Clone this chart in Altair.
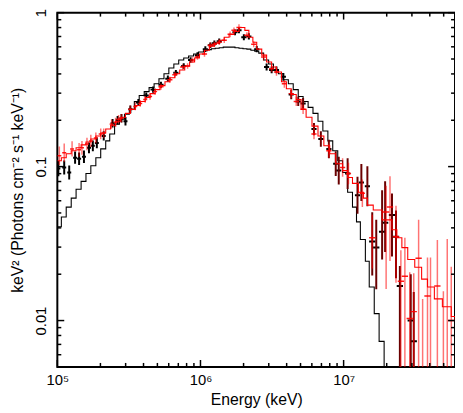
import numpy as np
import pandas as pd
import altair as alt

# ---------------- data (log10 units) ----------------
# energy: log10(keV); flux: log10(keV^2 Photons cm^-2 s^-1 keV^-1)

black_model_logE = [5.000, 5.028, 5.062, 5.097, 5.131, 5.166, 5.200, 5.234, 5.269, 5.303,
                    5.338, 5.366, 5.400, 5.434, 5.469, 5.503, 5.538, 5.572, 5.607, 5.641,
                    5.676, 5.710, 5.745, 5.779, 5.814, 5.848, 5.883, 5.917, 5.952, 5.986,
                    6.021, 6.048, 6.076, 6.103, 6.131, 6.159, 6.186, 6.214, 6.241, 6.269,
                    6.297, 6.324, 6.352, 6.379, 6.407, 6.441, 6.476, 6.510, 6.545, 6.579,
                    6.614, 6.648, 6.683, 6.717, 6.752, 6.786, 6.821, 6.855, 6.890, 6.924,
                    6.959, 6.993, 7.028, 7.062, 7.090, 7.117, 7.152, 7.179, 7.214, 7.248,
                    7.283]
black_model_logF = [-1.391, -1.327, -1.263, -1.205, -1.147, -1.096, -1.045, -0.994, -0.942, -0.885,
                    -0.833, -0.788, -0.724, -0.692, -0.660, -0.628, -0.577, -0.538, -0.513, -0.487,
                    -0.462, -0.429, -0.397, -0.359, -0.333, -0.308, -0.295, -0.282, -0.269, -0.256,
                    -0.247, -0.240, -0.234, -0.231, -0.228, -0.224, -0.224, -0.224, -0.228, -0.231,
                    -0.234, -0.237, -0.244, -0.250, -0.263, -0.308, -0.333, -0.372, -0.397, -0.436,
                    -0.462, -0.500, -0.545, -0.577, -0.615, -0.654, -0.705, -0.769, -0.833, -0.897,
                    -0.962, -1.038, -1.167, -1.263, -1.359, -1.474, -1.615, -1.782, -1.955, -2.135,
                    -2.450]

red_model_logE = [5.000, 5.028, 5.062, 5.097, 5.131, 5.166, 5.200, 5.234, 5.269, 5.303,
                  5.338, 5.372, 5.407, 5.441, 5.476, 5.510, 5.545, 5.579, 5.614, 5.648,
                  5.683, 5.717, 5.752, 5.786, 5.821, 5.855, 5.890, 5.924, 5.959, 5.993,
                  6.028, 6.062, 6.097, 6.131, 6.166, 6.200, 6.234, 6.269, 6.310, 6.338,
                  6.366, 6.393, 6.428, 6.462, 6.497, 6.531, 6.566, 6.600, 6.634, 6.669,
                  6.703, 6.738, 6.779, 6.821, 6.862, 6.903, 6.945, 6.993, 7.028, 7.062,
                  7.103, 7.138, 7.166, 7.207, 7.269, 7.338, 7.372, 7.407, 7.448, 7.497,
                  7.545, 7.586, 7.634, 7.690, 7.752, 7.779]
red_model_logF = [-0.962, -0.942, -0.917, -0.897, -0.878, -0.859, -0.840, -0.821, -0.801, -0.782,
                  -0.756, -0.731, -0.705, -0.679, -0.654, -0.628, -0.603, -0.577, -0.551, -0.526,
                  -0.500, -0.474, -0.449, -0.423, -0.397, -0.372, -0.346, -0.321, -0.295, -0.269,
                  -0.244, -0.218, -0.199, -0.179, -0.160, -0.141, -0.122, -0.096, -0.115, -0.160,
                  -0.192, -0.237, -0.276, -0.321, -0.353, -0.385, -0.449, -0.494, -0.532, -0.564,
                  -0.628, -0.679, -0.737, -0.801, -0.865, -0.917, -0.981, -1.026, -1.071, -1.109,
                  -1.167, -1.205, -1.250, -1.282, -1.346, -1.410, -1.462, -1.526, -1.603, -1.654,
                  -1.731, -1.782, -1.859, -1.910, -1.974, -2.000]

black_data_logE = [5.007, 5.048, 5.083, 5.124, 5.152, 5.186, 5.221, 5.248, 5.276, 5.324,
                   5.386, 5.421, 5.448, 5.476, 5.510, 5.566, 5.621, 5.669, 5.724, 5.772,
                   5.828, 5.883, 5.931, 5.979, 6.034, 6.069, 6.097, 6.131, 6.241, 6.269,
                   6.303, 6.338, 6.393, 6.462, 6.497, 6.531, 6.579, 6.634, 6.683, 6.717,
                   6.793, 6.841, 6.897, 6.945, 6.966, 7.028, 7.097, 7.124, 7.166, 7.200,
                   7.228, 7.269, 7.290, 7.338, 7.366, 7.393, 7.469, 7.490]
black_data_logF = [-1.013, -1.006, -1.038, -0.942, -0.949, -0.936, -0.878, -0.865, -0.846, -0.801,
                   -0.718, -0.699, -0.686, -0.705, -0.628, -0.583, -0.538, -0.500, -0.468, -0.429,
                   -0.391, -0.346, -0.308, -0.276, -0.237, -0.212, -0.199, -0.186, -0.128, -0.115,
                   -0.160, -0.154, -0.237, -0.353, -0.372, -0.372, -0.417, -0.532, -0.577, -0.590,
                   -0.756, -0.821, -0.885, -0.981, -1.026, -1.045, -1.186, -1.103, -1.128, -1.487,
                   -1.526, -1.423, -1.365, -1.314, -1.455, -1.776, -2.000, -2.135]
black_data_err_up = [0.05, 0.045, 0.045, 0.04, 0.04, 0.04, 0.035, 0.035, 0.035, 0.03,
                     0.028, 0.028, 0.028, 0.028, 0.025, 0.022, 0.02, 0.02, 0.02, 0.02,
                     0.018, 0.018, 0.018, 0.018, 0.018, 0.018, 0.018, 0.018, 0.018, 0.018,
                     0.02, 0.02, 0.02, 0.022, 0.022, 0.022, 0.025, 0.03, 0.03, 0.035,
                     0.04, 0.05, 0.06, 0.08, 0.09, 0.1, 0.12, 0.12, 0.13, 0.19,
                     0.18, 0.27, 0.27, 0.14, 0.17, 0.13, 0.3, 0.32]
black_data_err_dn = [0.05, 0.045, 0.045, 0.04, 0.04, 0.04, 0.035, 0.035, 0.035, 0.03,
                     0.028, 0.028, 0.028, 0.028, 0.025, 0.022, 0.02, 0.02, 0.02, 0.02,
                     0.018, 0.018, 0.018, 0.018, 0.018, 0.018, 0.018, 0.018, 0.018, 0.018,
                     0.02, 0.02, 0.02, 0.022, 0.022, 0.022, 0.025, 0.03, 0.03, 0.035,
                     0.04, 0.05, 0.06, 0.08, 0.09, 0.1, 0.12, 0.12, 0.13, 0.22,
                     0.27, 0.18, 0.19, 0.27, 0.27, 1.0, 1.0, 1.0]
black_data_halfbin = [0.014] * 15 + [0.018] * 34 + [0.022] * 9

red_data_logE = [5.014, 5.048, 5.103, 5.152, 5.172, 5.207, 5.234, 5.269, 5.303, 5.324,
                 5.379, 5.407, 5.428, 5.448, 5.510, 5.545, 5.579, 5.614, 5.648, 5.683,
                 5.724, 5.786, 5.821, 5.876, 5.910, 5.945, 5.979, 6.028, 6.069, 6.097,
                 6.131, 6.166, 6.207, 6.234, 6.269, 6.324, 6.372, 6.441, 6.497, 6.531,
                 6.586, 6.634, 6.669, 6.717, 6.793, 6.897, 6.993, 7.034, 7.131, 7.200,
                 7.297, 7.324, 7.366, 7.400, 7.428, 7.462, 7.490, 7.524, 7.586, 7.655,
                 7.752, 7.552, 7.607, 7.697, 7.724]
red_data_logF = [-0.929, -0.910, -0.885, -0.891, -0.878, -0.853, -0.833, -0.814, -0.788, -0.782,
                 -0.724, -0.712, -0.692, -0.686, -0.628, -0.609, -0.590, -0.564, -0.545, -0.513,
                 -0.481, -0.436, -0.404, -0.353, -0.346, -0.308, -0.288, -0.269, -0.212, -0.205,
                 -0.192, -0.179, -0.141, -0.115, -0.096, -0.147, -0.205, -0.288, -0.365, -0.385,
                 -0.462, -0.526, -0.577, -0.628, -0.788, -0.897, -1.006, -1.045, -1.173, -1.462,
                 -1.295, -1.263, -1.455, -1.744, -1.712, -1.987, -1.942, -1.596, -1.840, -1.776,
                 -2.000, -2.6, -2.6, -2.6, -2.6]
red_data_err_up = [0.06, 0.06, 0.05, 0.045, 0.045, 0.04, 0.04, 0.035, 0.035, 0.03,
                   0.03, 0.03, 0.028, 0.028, 0.025, 0.025, 0.022, 0.022, 0.02, 0.02,
                   0.02, 0.02, 0.018, 0.018, 0.018, 0.018, 0.018, 0.018, 0.018, 0.018,
                   0.018, 0.018, 0.018, 0.018, 0.02, 0.02, 0.02, 0.022, 0.022, 0.025,
                   0.025, 0.028, 0.03, 0.03, 0.035, 0.045, 0.06, 0.07, 0.09, 0.15,
                   0.17, 0.2, 0.2, 0.2, 0.25, 0.3, 0.25, 0.25, 0.25, 0.3,
                   0.35, 0.74, 1.01, 0.79, 1.13]
red_data_err_dn = [0.06, 0.06, 0.05, 0.045, 0.045, 0.04, 0.04, 0.035, 0.035, 0.03,
                   0.03, 0.03, 0.028, 0.028, 0.025, 0.025, 0.022, 0.022, 0.02, 0.02,
                   0.02, 0.02, 0.018, 0.018, 0.018, 0.018, 0.018, 0.018, 0.018, 0.018,
                   0.018, 0.018, 0.018, 0.018, 0.02, 0.02, 0.02, 0.022, 0.022, 0.025,
                   0.025, 0.028, 0.03, 0.03, 0.035, 0.045, 0.06, 0.07, 0.09, 0.2,
                   0.5, 0.35, 0.3, 1.0, 1.0, 1.0, 1.0, 1.0, 1.0, 1.0,
                   1.0, 0.3, 0.3, 0.3, 0.3]
red_data_halfbin = [0.014] * 20 + [0.018] * 29 + [0.022] * 16

# axis ticks and labels
x_major = [1e5, 1e6, 1e7]
x_minor = [2e5, 3e5, 4e5, 5e5, 6e5, 7e5, 8e5, 9e5,
           2e6, 3e6, 4e6, 5e6, 6e6, 7e6, 8e6, 9e6,
           2e7, 3e7, 4e7, 5e7]
y_major = [0.01, 0.1, 1.0]
y_minor = [0.006, 0.007, 0.008, 0.009,
           0.02, 0.03, 0.04, 0.05, 0.06, 0.07, 0.08, 0.09,
           0.2, 0.3, 0.4, 0.5, 0.6, 0.7, 0.8, 0.9]

E_DOMAIN = [1e5, 6e7]
F_DOMAIN = [0.005, 1.0]

# ---------------- build tables ----------------
def steps(logE, logF):
    return pd.DataFrame({"E": np.power(10.0, logE), "F": np.power(10.0, logF)})


def points(logE, logF, up, dn, hw):
    le, lf = np.array(logE), np.array(logF)
    return pd.DataFrame({
        "E": 10 ** le, "F": 10 ** lf,
        "E_lo": 10 ** (le - np.array(hw)), "E_hi": 10 ** (le + np.array(hw)),
        "F_lo": 10 ** (lf - np.array(dn)), "F_hi": 10 ** (lf + np.array(up)),
    })


bm = steps(black_model_logE, black_model_logF)
rm = steps(red_model_logE, red_model_logF)
bd = points(black_data_logE, black_data_logF, black_data_err_up, black_data_err_dn, black_data_halfbin)
rd = points(red_data_logE, red_data_logF, red_data_err_up, red_data_err_dn, red_data_halfbin)

W, H = 403, 359
FONT = "Liberation Sans"
MAJ, MIN = 7, 4

xs = alt.Scale(type="log", domain=E_DOMAIN, nice=False)
ys = alt.Scale(type="log", domain=F_DOMAIN, nice=False)

xaxis = alt.Axis(values=x_major,
                 labelExpr="datum.value < 5e5 ? '10⁵' : datum.value < 5e6 ? '10⁶' : '10⁷'",
                 ticks=False, tickSize=0, domain=False, grid=False, labelFlush=False,
                 labelFont=FONT, labelFontSize=15, labelColor="black", labelPadding=6,
                 title="Energy (keV)", titleFont=FONT, titleFontSize=16,
                 titleFontWeight="normal", titleColor="black", titlePadding=4)
yaxis = alt.Axis(values=y_major,
                 labelExpr="datum.value < 0.05 ? '0.01' : datum.value < 0.5 ? '0.1' : '1'",
                 labelAngle=270, ticks=False, tickSize=0, domain=False, grid=False,
                 labelFont=FONT, labelFontSize=15, labelColor="black", labelPadding=9,
                 title="keV² (Photons cm⁻² s⁻¹ keV⁻¹)", titleFont=FONT, titleFontSize=16,
                 titleFontWeight="normal", titleColor="black", titlePadding=8)


def X(f):
    return alt.X(f"{f}:Q", scale=xs, axis=xaxis, title="Energy (keV)")


def Y(f):
    return alt.Y(f"{f}:Q", scale=ys, axis=yaxis, title="keV² (Photons cm⁻² s⁻¹ keV⁻¹)")


black_line = alt.Chart(bm).mark_line(interpolate="step-after", color="black",
                                     strokeWidth=1.1, clip=True).encode(x=X("E"), y=Y("F"))
red_line = alt.Chart(rm).mark_line(interpolate="step-after", color="#ff0000",
                                   strokeWidth=1.1, clip=True).encode(x=X("E"), y=Y("F"))

black_h = alt.Chart(bd).mark_rule(color="black", strokeWidth=2, clip=True).encode(
    x=X("E_lo"), x2="E_hi", y=Y("F"))
black_v = alt.Chart(bd).mark_rule(strokeWidth=2, clip=True).encode(
    x=X("E"), y=Y("F_lo"), y2="F_hi",
    color=alt.condition("datum.E > 4000000", alt.value("#6a0000"), alt.value("black")))
red_h = alt.Chart(rd).mark_rule(color="#ff0000", strokeWidth=1.5, opacity=0.9, clip=True).encode(
    x=X("E_lo"), x2="E_hi", y=Y("F"))
red_v = alt.Chart(rd).mark_rule(color="#ff0000", strokeWidth=1.5, opacity=0.55, clip=True).encode(
    x=X("E"), y=Y("F_lo"), y2="F_hi")

xmaj = pd.DataFrame({"v": x_major})
xmin = pd.DataFrame({"v": x_minor})
ymaj = pd.DataFrame({"v": y_major})
ymin = pd.DataFrame({"v": y_minor})


def xticks(df, L):
    b = alt.Chart(df).mark_rule(color="black", strokeWidth=1.5).encode(
        x=X("v"), y=alt.value(H), y2=alt.value(H - L))
    t = alt.Chart(df).mark_rule(color="black", strokeWidth=1.5).encode(
        x=X("v"), y=alt.value(0), y2=alt.value(L))
    return [b, t]


def yticks(df, L):
    l = alt.Chart(df).mark_rule(color="black", strokeWidth=1.5).encode(
        y=Y("v"), x=alt.value(0), x2=alt.value(L))
    r = alt.Chart(df).mark_rule(color="black", strokeWidth=1.5).encode(
        y=Y("v"), x=alt.value(W), x2=alt.value(W - L))
    return [l, r]


layers = [black_line, black_h, black_v, red_h, red_v, red_line]
layers += xticks(xmaj, MAJ) + xticks(xmin, MIN) + yticks(ymaj, MAJ) + yticks(ymin, MIN)

chart = alt.layer(*layers).properties(
    width=W, height=H,
    autosize=alt.AutoSizeParams(type="none"),
    padding={"left": 50, "top": 2, "right": 0, "bottom": 44},
    background="white",
).configure_view(stroke="black", strokeWidth=2)

chart.save("out.html", embed_options={"renderer": "svg", "actions": False})
